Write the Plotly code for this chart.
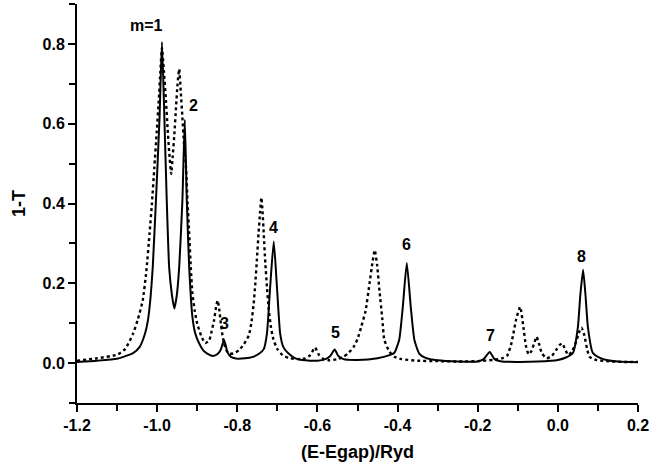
import plotly.graph_objects as go

# Solid curve
solid_x = [-1.200, -1.150, -1.100, -1.060, -1.044, -1.030, -1.023, -1.016, -1.011, -1.003,
           -0.994, -0.988, -0.982, -0.976, -0.970, -0.963, -0.957, -0.951, -0.945, -0.937,
           -0.931, -0.926, -0.920, -0.912, -0.905, -0.895, -0.885, -0.875, -0.860, -0.850,
           -0.842, -0.836, -0.833, -0.829, -0.825, -0.815, -0.800, -0.780, -0.763, -0.745,
           -0.734, -0.726, -0.718, -0.709, -0.701, -0.693, -0.685, -0.672, -0.655, -0.630,
           -0.600, -0.580, -0.568, -0.557, -0.548, -0.535, -0.500, -0.450, -0.420, -0.408,
           -0.396, -0.387, -0.377, -0.367, -0.358, -0.346, -0.330, -0.300, -0.250, -0.200,
           -0.185, -0.170, -0.158, -0.140, -0.100, -0.050, 0.000, 0.020, 0.038, 0.050,
           0.056, 0.063, 0.069, 0.075, 0.087, 0.105, 0.121, 0.150, 0.200]
solid_y = [0.003, 0.006, 0.011, 0.025, 0.040, 0.075, 0.107, 0.170, 0.240, 0.407,
           0.616, 0.805, 0.616, 0.407, 0.240, 0.170, 0.137, 0.170, 0.240, 0.407,
           0.610, 0.407, 0.240, 0.116, 0.075, 0.049, 0.032, 0.024, 0.018, 0.022,
           0.032, 0.050, 0.057, 0.045, 0.028, 0.015, 0.011, 0.012, 0.015, 0.024,
           0.035, 0.074, 0.190, 0.305, 0.190, 0.074, 0.040, 0.024, 0.012, 0.007,
           0.006, 0.010, 0.018, 0.034, 0.018, 0.010, 0.008, 0.012, 0.020, 0.026,
           0.058, 0.140, 0.251, 0.140, 0.058, 0.024, 0.013, 0.007, 0.004, 0.004,
           0.010, 0.028, 0.010, 0.004, 0.003, 0.004, 0.008, 0.014, 0.026, 0.090,
           0.170, 0.234, 0.170, 0.090, 0.026, 0.013, 0.008, 0.004, 0.002]

# Dotted curve
dotted_x = [-1.200, -1.150, -1.100, -1.080, -1.060, -1.048, -1.036, -1.027, -1.019, -1.013,
            -1.007, -1.001, -0.996, -0.992, -0.988, -0.983, -0.978, -0.974, -0.970, -0.965,
            -0.961, -0.957, -0.953, -0.949, -0.945, -0.941, -0.937, -0.933, -0.928, -0.924,
            -0.920, -0.916, -0.912, -0.906, -0.900, -0.890, -0.880, -0.870, -0.864, -0.858,
            -0.853, -0.849, -0.845, -0.842, -0.837, -0.833, -0.827, -0.821, -0.810, -0.796,
            -0.783, -0.771, -0.765, -0.759, -0.755, -0.751, -0.747, -0.743, -0.740, -0.737,
            -0.734, -0.730, -0.726, -0.722, -0.716, -0.710, -0.700, -0.687, -0.672, -0.650,
            -0.630, -0.618, -0.606, -0.596, -0.585, -0.570, -0.550, -0.535, -0.524, -0.510,
            -0.500, -0.491, -0.480, -0.470, -0.463, -0.457, -0.451, -0.445, -0.438, -0.433,
            -0.420, -0.408, -0.390, -0.350, -0.300, -0.250, -0.200, -0.160, -0.140, -0.127,
            -0.117, -0.111, -0.104, -0.094, -0.086, -0.080, -0.073, -0.066, -0.059, -0.053,
            -0.046, -0.040, -0.028, -0.015, -0.004, 0.004, 0.011, 0.018, 0.026, 0.036,
            0.046, 0.054, 0.059, 0.066, 0.073, 0.079, 0.095, 0.120, 0.160, 0.200]
dotted_y = [0.006, 0.012, 0.021, 0.035, 0.074, 0.110, 0.157, 0.230, 0.324, 0.400,
            0.490, 0.580, 0.657, 0.730, 0.790, 0.730, 0.657, 0.590, 0.530, 0.474,
            0.520, 0.574, 0.640, 0.700, 0.737, 0.680, 0.616, 0.550, 0.490, 0.400,
            0.324, 0.240, 0.174, 0.130, 0.099, 0.068, 0.050, 0.057, 0.080, 0.107,
            0.140, 0.157, 0.135, 0.107, 0.070, 0.049, 0.032, 0.024, 0.024, 0.032,
            0.048, 0.070, 0.100, 0.150, 0.200, 0.260, 0.324, 0.380, 0.415, 0.380,
            0.324, 0.250, 0.190, 0.140, 0.090, 0.060, 0.035, 0.020, 0.013, 0.010,
            0.012, 0.020, 0.039, 0.020, 0.010, 0.007, 0.010, 0.016, 0.024, 0.040,
            0.060, 0.090, 0.130, 0.200, 0.250, 0.283, 0.245, 0.180, 0.110, 0.058,
            0.028, 0.016, 0.010, 0.006, 0.005, 0.004, 0.005, 0.008, 0.012, 0.018,
            0.045, 0.074, 0.110, 0.141, 0.090, 0.045, 0.022, 0.030, 0.050, 0.066,
            0.045, 0.025, 0.012, 0.018, 0.033, 0.045, 0.049, 0.035, 0.020, 0.030,
            0.055, 0.080, 0.089, 0.070, 0.035, 0.016, 0.008, 0.005, 0.003, 0.003]

# Peak labels
label_text = ["m=1", "2", "3", "4", "5", "6", "7", "8"]
label_x = [-1.027, -0.910, -0.831, -0.709, -0.554, -0.377, -0.168, 0.059]
label_y = [0.845, 0.645, 0.100, 0.339, 0.076, 0.2975, 0.070, 0.2675]

# Tick labels
x_tickvals = [-1.2, -1.0, -0.8, -0.6, -0.4, -0.2, 0.0, 0.2]
x_ticktext = ["-1.2", "-1.0", "-0.8", "-0.6", "-0.4", "-0.2", "0.0", "0.2"]
y_tickvals = [0.0, 0.2, 0.4, 0.6, 0.8]
y_ticktext = ["0.0", "0.2", "0.4", "0.6", "0.8"]

FONT = "Liberation Sans, Arial, Helvetica, sans-serif"

fig = go.Figure()
fig.add_trace(go.Scatter(x=dotted_x, y=dotted_y, mode="lines",
                         line=dict(color="black", width=2.4, dash="dot",
                                   shape="spline", smoothing=0.5),
                         showlegend=False, hoverinfo="skip"))
fig.add_trace(go.Scatter(x=solid_x, y=solid_y, mode="lines",
                         line=dict(color="black", width=2, shape="spline", smoothing=0.5),
                         showlegend=False, hoverinfo="skip"))

for t, x, y in zip(label_text, label_x, label_y):
    fig.add_annotation(x=x, y=y, text=t, showarrow=False, xref="x", yref="y",
                       font=dict(family=FONT, size=16, color="black", weight="bold"))

axis_common = dict(
    showgrid=False, zeroline=False, showline=True, linecolor="black", linewidth=2,
    ticks="outside", ticklen=7, tickwidth=2, tickcolor="black", mirror=False,
    tickfont=dict(family=FONT, size=16, color="black", weight="bold"),
    ticklabeloverflow="allow",
)

fig.update_xaxes(range=[-1.2, 0.2], tickmode="array", tickvals=x_tickvals, ticktext=x_ticktext,
                 minor=dict(dtick=0.1, tick0=0, ticks="outside", ticklen=6,
                            tickwidth=2, tickcolor="black"),
                 title=dict(text="(E-Egap)/Ryd", standoff=12,
                            font=dict(family=FONT, size=18, color="black", weight="bold")),
                 **axis_common)
fig.update_yaxes(range=[-0.1, 0.9], tickmode="array", tickvals=y_tickvals, ticktext=y_ticktext,
                 minor=dict(dtick=0.1, tick0=0, ticks="outside", ticklen=6,
                            tickwidth=2, tickcolor="black"),
                 title=dict(text="1-T", standoff=12,
                            font=dict(family=FONT, size=18, color="black", weight="bold")),
                 **axis_common)

fig.update_layout(width=651, height=469, margin=dict(l=77, r=13, t=4, b=66, autoexpand=False),
                  plot_bgcolor="white", paper_bgcolor="white")

fig.write_html("out.html")
